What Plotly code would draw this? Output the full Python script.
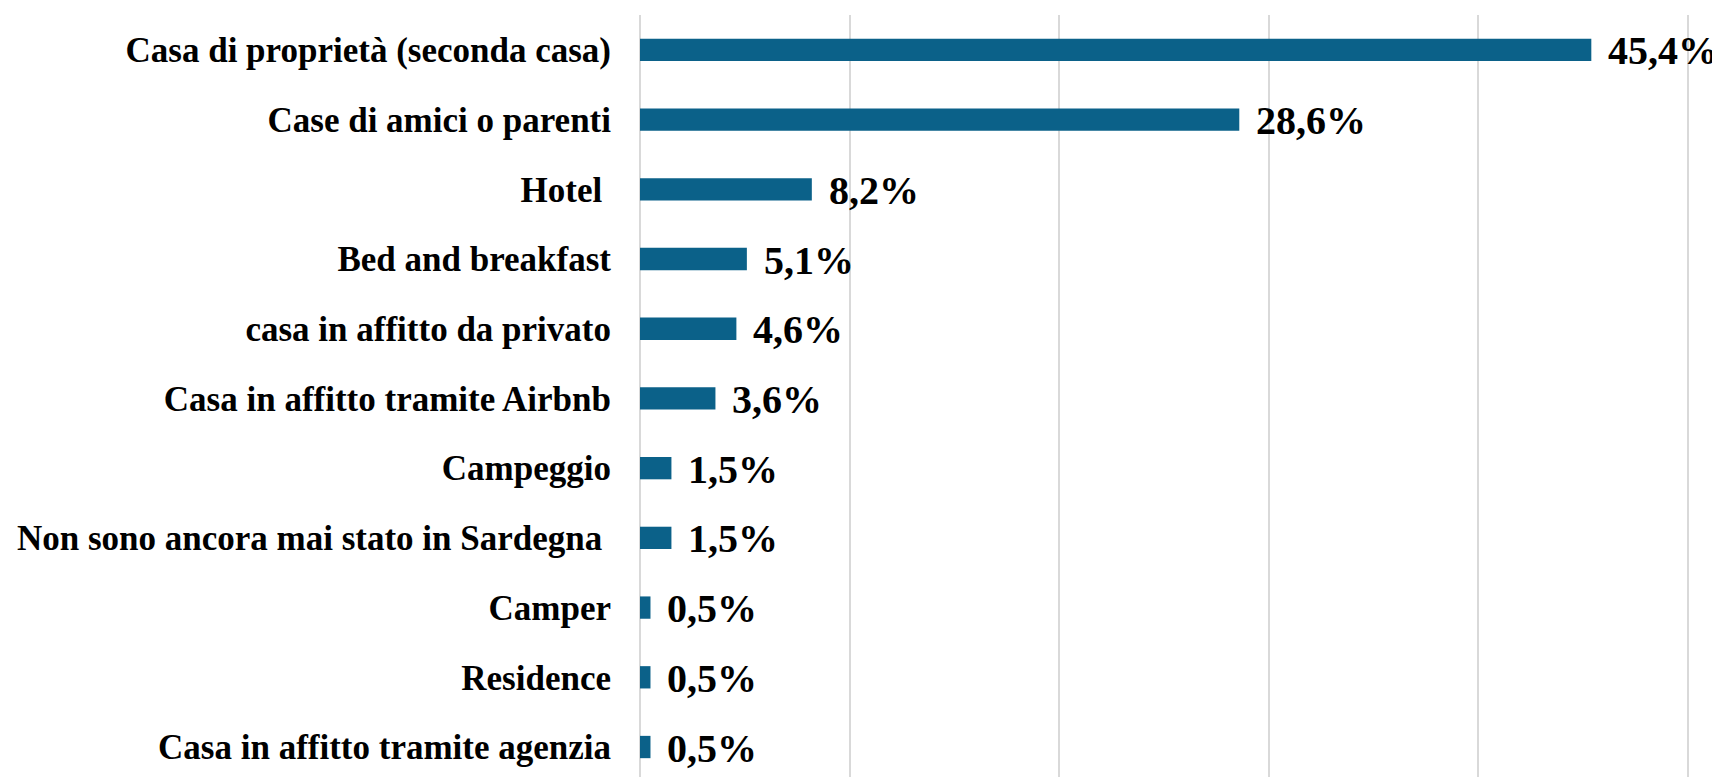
import plotly.graph_objects as go

categories = [
    "Casa di proprietà (seconda casa)",
    "Case di amici o parenti",
    "Hotel\u00a0",
    "Bed and breakfast",
    "casa in affitto da privato",
    "Casa in affitto tramite Airbnb",
    "Campeggio",
    "Non sono ancora mai stato in Sardegna\u00a0",
    "Camper",
    "Residence",
    "Casa in affitto tramite agenzia",
]
values = [45.4, 28.6, 8.2, 5.1, 4.6, 3.6, 1.5, 1.5, 0.5, 0.5, 0.5]
labels = [f"{v:.1f}%".replace(".", ",") for v in values]

fig = go.Figure(go.Bar(
    x=values, y=categories, orientation="h",
    marker=dict(color="#0B6189", line=dict(width=0)),
    width=0.32,
))

# etichette dei valori a destra delle barre
for cat, v, lab in zip(categories, values, labels):
    fig.add_annotation(x=v, y=cat, text=lab, showarrow=False,
                       xanchor="left", xshift=15, yshift=-1,
                       font=dict(family="Liberation Serif", size=40, color="black", weight="bold"))

# la pagina html aggiunge 8px di margine al body
fig.update_layout(
    width=1712, height=769,
    margin=dict(l=632, r=26, t=7, b=0),
    plot_bgcolor="white", paper_bgcolor="white",
    showlegend=False,
    font=dict(family="Liberation Serif", color="black"),
)
fig.update_xaxes(range=[0, 50.3], dtick=10, showticklabels=False, automargin=False,
                 showgrid=True, gridcolor="#d9d9d9", gridwidth=2,
                 zeroline=True, zerolinecolor="#d9d9d9", zerolinewidth=2)
fig.update_yaxes(range=[10.43, -0.5], showgrid=False, automargin=False,
                 tickfont=dict(family="Liberation Serif", size=35, color="black", weight="bold"),
                 ticklabelstandoff=28)

fig.write_html("out.html")
